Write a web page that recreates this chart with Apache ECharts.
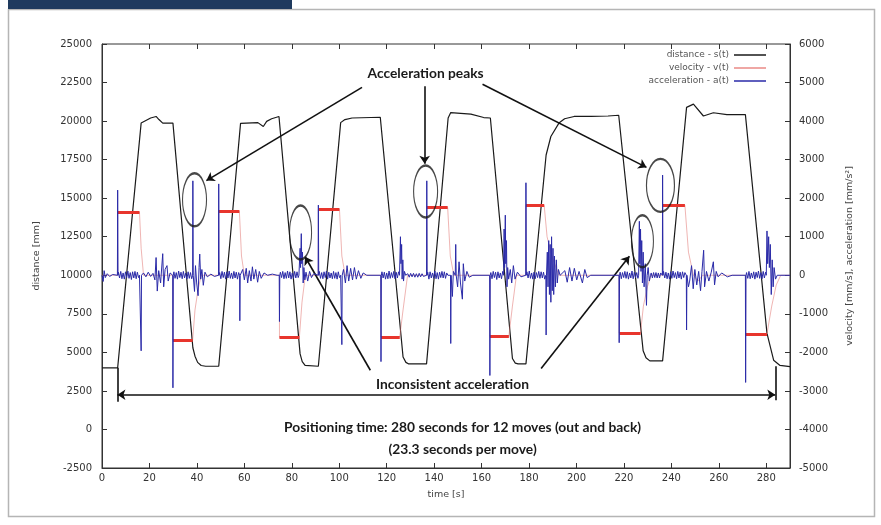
<!DOCTYPE html>
<html><head><meta charset="utf-8">
<script src="https://cdn.jsdelivr.net/npm/echarts@6/dist/echarts.min.js"></script>
<style>html,body{margin:0;padding:0;background:#fff}#c{width:881px;height:525px}</style>
</head><body><div id="c"></div>
<script>
// ---------------- DATA ----------------
const seriesNames = ['distance - s(t)', 'velocity - v(t)', 'acceleration - a(t)'];

// distance s(t) [mm]  (left axis)  : [time s, distance mm]
const distance = [
  [0,4000],[6.6,4000],[16.5,19870],[20.5,20200],[22.8,20300],[24,20100],[25.6,19870],[29.9,19870],
  [38.3,5300],[39.2,4750],[40.3,4350],[41.8,4150],[43.7,4100],[49.2,4100],
  [58.4,19850],[65.7,19900],[68,19650],[69.4,19980],[71.5,20150],[74.6,20300],
  [83.5,4900],[84.4,4400],[85.6,4150],[91.2,4100],
  [100.6,19900],[102.4,20100],[105.4,20200],[117.3,20250],
  [126.9,4700],[128.1,4350],[129.3,4250],[136.8,4250],
  [145.9,20200],[147,20550],[151.2,20500],[155.5,20450],[160.9,20230],[163.7,20200],
  [173,4600],[174.2,4300],[175.4,4250],[178.7,4250],
  [187.2,17800],[189.2,19000],[192.6,19870],[195,20150],[199,20300],[206.2,20300],[213.3,20330],[217.8,20380],
  [228.1,5100],[229.3,4650],[230.9,4450],[236.3,4450],
  [246.4,20890],[249.3,21100],[253.5,20330],[257.7,20540],[263.4,20420],[271.2,20420],
  [280.3,6230],[283.1,4490],[285.8,4150],[290,4080]
];

// velocity v(t) [mm/s]  (right axis)
const velocity = [
  [0,0],[6.6,0],[6.6,1640],[15.8,1640],[16.5,700],[17.5,0],
  [29.9,0],[29.9,-1680],[38.2,-1680],[39.2,-900],[40.4,-400],[41.8,0],
  [49.2,0],[49.2,1670],[57.9,1670],[58.8,500],[60,0],
  [74.8,0],[74.8,-1610],[83.2,-1610],[84.3,-700],[85.7,0],
  [91.2,0],[91.2,1710],[100.1,1710],[101.1,500],[102.5,0],
  [117.6,0],[117.6,-1600],[125.5,-1600],[126.9,-900],[128.8,0],
  [136.9,0],[136.9,1760],[145.7,1760],[146.8,500],[148.3,0],
  [163.5,0],[163.5,-1580],[171.5,-1580],[173,-800],[174.7,0],
  [178.7,0],[178.7,1810],[186.4,1810],[187.6,1000],[189.6,500],[192.6,0],
  [218,0],[218,-1500],[227,-1500],[228.2,-800],[229.9,-300],[231.4,0],
  [236.3,0],[236.3,1820],[245.7,1820],[247.2,600],[249.3,0],[251.2,-150],[253.2,0],
  [271.3,0],[271.3,-1520],[280.3,-1520],[282.3,-800],[284.2,-250],[286.1,0],[290,0]
];

// acceleration a(t) [mm/s^2]  (right axis)
const acceleration = [
  [0,0],[0.5,-160],[0.9,120],[1.4,-60],[2.2,40],[3.2,-30],[4.5,20],[6.5,0],[6.6,2210],[6.75,0],
  [6.9,80],[7.4,-70],[7.9,100],[8.4,-90],[8.9,60],[9.4,-100],[9.9,90],[10.4,-60],[10.9,110],[11.4,-80],[11.9,70],[12.4,-110],[12.9,90],[13.4,-70],[13.9,100],[14.4,-90],[14.9,80],[15.4,-60],
  [15.8,0],[16.4,0],[16.5,-1960],[16.65,0],[17.5,60],[18.5,-40],[19.5,80],[20.5,-30],[21.5,50],[22.3,-120],[22.8,460],[23.3,-410],[23.9,120],[24.7,-200],[25.6,560],[26,-300],[26.6,150],[27.4,250],[27.9,-150],[28.7,60],[29.8,0],[29.9,-2920],[30.05,0],
  [30.3,90],[30.8,-80],[31.3,70],[31.8,-100],[32.3,110],[32.8,-60],[33.3,80],[33.8,-90],[34.3,100],[34.8,-70],[35.3,60],[35.8,-100],[36.3,90],[36.8,-80],[37.3,70],[37.8,-90],
  [38.2,0],[38.3,2450],[38.45,0],[39,-420],[39.4,250],[39.9,-200],[40.5,-530],[40.9,200],[41.2,550],[41.6,-100],[42.1,150],[42.7,-260],[43.4,80],[44.4,-40],[45.9,30],[47.4,-30],[49.1,0],[49.2,2370],[49.35,0],
  [49.6,70],[50.1,-90],[50.6,100],[51.1,-60],[51.6,80],[52.1,-100],[52.6,90],[53.1,-70],[53.6,110],[54.1,-80],[54.6,60],[55.1,-90],[55.6,100],[56.1,-70],[56.6,80],[57.1,-100],[57.6,70],
  [58,0],[58.1,-1180],[58.25,0],[59.3,150],[60,-120],[60.8,180],[61.4,-200],[62.1,120],[62.8,-150],[63.4,220],[64,-100],[64.8,150],[65.6,-180],[66.3,100],[67.1,-80],[68.3,60],[69.8,0],[71.8,30],[73.8,0],[74.7,0],[74.8,-1200],[74.95,0],
  [75.2,80],[75.7,-60],[76.2,100],[76.7,-90],[77.2,70],[77.7,-80],[78.2,110],[78.7,-70],[79.2,90],[79.7,-100],[80.2,60],[80.7,-80],[81.2,100],[81.7,-70],[82.2,90],[82.7,-60],
  [83,0],[83.5,700],[83.7,200],[84,1080],[84.2,300],[84.5,600],[84.8,-200],[85.1,200],[85.5,-120],[86,80],[86.7,-150],[87.5,100],[88.3,-60],[89.2,40],[91.1,0],[91.2,1820],[91.35,0],
  [91.6,100],[92.1,-80],[92.6,70],[93.1,-90],[93.6,90],[94.1,-60],[94.6,110],[95.1,-100],[95.6,80],[96.1,-70],[96.6,60],[97.1,-90],[97.6,100],[98.1,-80],[98.6,70],[99.1,-100],[99.6,90],[100.1,-60],
  [100.6,0],[101,0],[101.1,-1800],[101.25,0],[101.8,150],[102.6,-200],[103.3,250],[104,-150],[104.8,180],[105.6,-120],[106.4,200],[107.2,-100],[108.1,120],[109.1,-80],[110.1,60],[111.6,0],[117.5,0],[117.6,-2240],[117.75,0],
  [118,90],[118.5,-70],[119,80],[119.5,-100],[120,60],[120.5,-90],[121,110],[121.5,-80],[122,70],[122.5,-60],[123,100],[123.5,-90],[124,80],[124.5,-70],[125,90],
  [125.4,0],[125.8,1000],[126,300],[126.3,800],[126.5,-100],[126.8,400],[127.1,-150],[127.5,100],[128,0],
  [128.9,40],[129.5,-50],[130.1,50],[130.7,-40],[131.3,50],[131.9,-50],[132.5,40],[133.1,-50],[133.7,50],[134.3,-40],[134.9,40],[135.5,-30],[136.8,0],[136.9,2450],[137.05,0],
  [137.3,80],[137.8,-100],[138.3,90],[138.8,-70],[139.3,60],[139.8,-80],[140.3,110],[140.8,-90],[141.3,70],[141.8,-100],[142.3,80],[142.8,-60],[143.3,100],[143.8,-70],[144.3,90],[144.8,-80],[145.3,60],
  [145.8,0],[146.9,0],[147,-1770],[147.15,0],[147.7,-550],[148.1,100],[148.9,0],[149.1,800],[149.3,0],[149.9,-300],[150.5,350],[151.1,-200],[151.9,-620],[152.3,300],[152.9,-150],[153.8,100],[154.8,-50],[156.3,0],[163.4,0],[163.5,-2600],[163.65,0],
  [163.9,70],[164.4,-90],[164.9,100],[165.4,-60],[165.9,80],[166.4,-110],[166.9,90],[167.4,-70],[167.9,60],[168.4,-90],[168.9,100],
  [169.3,0],[169.5,1200],[169.7,200],[170,1560],[170.2,300],[170.5,900],[170.7,-300],[171,200],[171.4,-100],[172.1,150],[172.7,-200],[173.4,250],[174.1,-100],[175.1,80],[176.6,-40],[178.6,0],[178.7,2400],[178.85,0],
  [179.1,90],[179.6,-70],[180.1,110],[180.6,-80],[181.1,60],[181.6,-100],[182.1,80],[182.6,-90],[183.1,70],[183.6,-60],[184.1,100],[184.6,-80],[185.1,90],[185.6,-70],[186.1,80],[186.6,-100],
  [187.1,0],[187.2,-1550],[187.35,0],[187.7,600],[188,-300],[188.3,900],[188.6,-500],[188.9,800],[189.2,-700],[189.5,1000],[189.8,-400],[190.1,700],[190.4,-500],[190.7,500],[191.1,-300],[191.5,400],[191.9,-200],[192.4,150],[193.1,0],
  [195.1,120],[196.1,-180],[197.1,200],[198.1,-150],[199.1,180],[200.1,-120],[201.1,100],[202.5,-200],[203.5,150],[204.5,-60],[206,0],[217.9,0],[218,-1750],[218.15,0],
  [218.4,80],[218.9,-90],[219.4,70],[219.9,-60],[220.4,100],[220.9,-80],[221.4,90],[221.9,-100],[222.4,60],[222.9,-70],[223.4,110],[223.9,-90],[224.4,80],[224.9,-60],[225.4,70],[225.9,-80],
  [226.2,0],[226.5,1400],[226.7,300],[227,1200],[227.2,100],[227.5,900],[227.8,-200],[228.1,600],[228.5,-300],[229,300],[229.5,-780],[229.8,0],[230.2,200],[230.7,-150],[231.2,0],
  [231.5,60],[232,-70],[232.5,70],[233,-60],[233.5,70],[234,-70],[234.5,60],[235,-70],[235.5,60],[236.2,0],[236.3,2600],[236.45,0],
  [236.7,100],[237.2,-70],[237.7,80],[238.2,-90],[238.7,60],[239.2,-100],[239.7,90],[240.2,-80],[240.7,110],[241.2,-60],[241.7,70],[242.2,-90],[242.7,100],[243.2,-70],[243.7,80],[244.2,-100],[244.7,90],[245.2,-60],[245.7,70],
  [246.3,0],[246.4,-1420],[246.55,0],[247.2,-300],[247.7,-150],[248.5,250],[249.2,-350],[249.9,150],[250.7,-250],[251.5,100],[252.3,-400],[252.9,100],[253.6,650],[254,-300],[254.8,100],[255.8,-150],[256.8,80],[257.7,350],[258.2,-250],[258.9,100],[259.7,-40],[261.2,60],[263.6,-40],[265.6,0],[271.2,0],[271.3,-2780],[271.45,0],
  [271.7,70],[272.2,-80],[272.7,100],[273.2,-90],[273.7,60],[274.2,-70],[274.7,90],[275.2,-100],[275.7,80],[276.2,-60],[276.7,110],[277.2,-80],[277.7,70],[278.2,-90],[278.7,100],[279.2,-70],[279.7,80],
  [280,0],[280.3,1150],[280.6,300],[281,1000],[281.3,200],[281.7,800],[282.1,-500],[282.5,400],[282.9,-300],[283.3,200],[283.9,-100],[284.6,0],[290,0]
];

// axis ranges / ticks
const xRange = [0, 290], xStep = 20;
const leftRange = [-2500, 25000], leftStep = 2500;
const rightRange = [-5000, 6000], rightStep = 1000;

// annotations (data coordinates: time, distance)
const noteTexts = ['Acceleration peaks', 'Inconsistent acceleration',
  'Positioning time: 280 seconds for 12 moves (out and back)', '(23.3 seconds per move)'];
const noteX = [136.4, 147.7, 152, 152];
const noteY = [23090, 2890, 100, -1330];
const arrowFrom = [[109.6,22190],[136.0,22260],[160.4,22390],[113.1,3840],[185.1,3950]];
const arrowTo   = [[44.0,16140],[136.0,17230],[229.5,17000],[85.6,11200],[222.3,11240]];
const spanStart = [6.5, 2250], spanEnd = [283.8, 2250];
const barLeft = [[6.5,1800],[6.5,4000]], barRight = [[283.8,1900],[283.8,4100]];
const ellipseX = [39.0, 83.7, 136.4, 235.4, 227.8];
const ellipseY = [14895, 12770, 15430, 15830, 12210];
const ellipseW = [24, 22, 24, 28, 22];
const ellipseH = [53, 54, 52, 53, 52];

// ---------------- CHART ----------------
const chart = echarts.init(document.getElementById('c'));
const fmt = v => String(v);
const axisCol = '#333';
const lblStyle = {fontFamily:'DejaVu Sans', fontSize:10, color:'#333'};

const velBars = [];
for (let i = 0; i < velocity.length - 1; i++) {
  const a = velocity[i], b = velocity[i+1];
  if (a[1] !== 0 && a[1] === b[1]) velBars.push([{coord:a},{coord:b}]);
}
const annLines = arrowFrom.map((f,i) => [{coord:f},{coord:arrowTo[i]}]);
annLines.push([{coord:spanStart, symbol:'arrow'},{coord:spanEnd, symbol:'arrow'}]);
annLines.push([{coord:barLeft[0], symbol:'none'},{coord:barLeft[1], symbol:'none'}]);
annLines.push([{coord:barRight[0], symbol:'none'},{coord:barRight[1], symbol:'none'}]);

const option = {
  animation:false,
  backgroundColor:'#fff',
  grid:{left:102, right:91, top:44, bottom:57, show:true, borderColor:axisCol, borderWidth:1, backgroundColor:'transparent'},
  legend:{
    data:seriesNames.map(n => ({name:n, icon:'rect'})), orient:'vertical', right:110, top:43.5, align:'right',
    itemWidth:32, itemHeight:1.5, itemGap:0,
    textStyle:{fontFamily:'DejaVu Sans', fontSize:9, color:'#555', lineHeight:13}
  },
  xAxis:[
    {type:'value', min:xRange[0], max:xRange[1], interval:xStep, position:'bottom',
     name:'time [s]', nameLocation:'middle', nameGap:22,
     nameTextStyle:{fontFamily:'DejaVu Sans', fontSize:9.5, color:'#444'},
     axisLine:{show:true, onZero:false, lineStyle:{color:axisCol}},
     axisTick:{inside:true, length:5, lineStyle:{color:axisCol}},
     axisLabel:Object.assign({margin:5, showMaxLabel:false, formatter:fmt}, lblStyle),
     splitLine:{show:false}},
    {type:'value', min:xRange[0], max:xRange[1], interval:xStep, position:'top',
     axisLine:{show:false, onZero:false}, axisTick:{inside:true, length:5, lineStyle:{color:axisCol}},
     axisLabel:{show:false}, splitLine:{show:false}}
  ],
  yAxis:[
    {type:'value', min:leftRange[0], max:leftRange[1], interval:leftStep, position:'left',
     name:'distance [mm]', nameLocation:'middle', nameRotate:90, nameGap:60,
     nameTextStyle:{fontFamily:'DejaVu Sans', fontSize:9.5, color:'#444'},
     axisLine:{show:true, onZero:false, lineStyle:{color:axisCol}},
     axisTick:{inside:true, length:5, lineStyle:{color:axisCol}},
     axisLabel:Object.assign({margin:10, formatter:fmt}, lblStyle),
     splitLine:{show:false}},
    {type:'value', min:rightRange[0], max:rightRange[1], interval:rightStep, position:'right',
     name:'velocity [mm/s], acceleration [mm/s²]', nameLocation:'middle', nameRotate:90, nameGap:55,
     nameTextStyle:{fontFamily:'DejaVu Sans', fontSize:9.5, color:'#444'},
     axisLine:{show:true, onZero:false, lineStyle:{color:axisCol}},
     axisTick:{inside:true, length:5, lineStyle:{color:axisCol}},
     axisLabel:Object.assign({margin:9, formatter:fmt}, lblStyle),
     splitLine:{show:false}}
  ],
  series:[
    {name:seriesNames[0], type:'line', xAxisIndex:0, yAxisIndex:0, data:distance,
     symbol:'none', z:3, color:'#1a1a1a', lineStyle:{color:'#1a1a1a', width:1.2},
     markLine:{silent:true, animation:false, symbol:['none','arrow'], symbolSize:8,
       label:{show:false}, lineStyle:{color:'#111', width:1.6, type:'solid'},
       emphasis:{disabled:true}, data:annLines}},
    {name:seriesNames[1], type:'line', xAxisIndex:0, yAxisIndex:1, data:velocity,
     symbol:'none', z:4, color:'#ea8a86', lineStyle:{color:'rgba(226,120,116,0.55)', width:1},
     markLine:{silent:true, animation:false, symbol:'none', label:{show:false},
       lineStyle:{color:'#e8352d', width:3, type:'solid'}, emphasis:{disabled:true}, data:velBars}},
    {name:seriesNames[2], type:'line', xAxisIndex:0, yAxisIndex:1, data:acceleration,
     symbol:'none', z:5, color:'#2a2aa8', lineStyle:{color:'#2a2aa8', width:1}},
    {name:'marks', type:'scatter', xAxisIndex:0, yAxisIndex:0, z:6, silent:true,
     data:ellipseX.map((x,i) => ({value:[x, ellipseY[i]], symbolSize:[ellipseW[i], ellipseH[i]]})),
     symbol:'circle',
     itemStyle:{color:'rgba(0,0,0,0)', borderColor:'#1a1a1a', borderWidth:1.6}}
  ]
};
chart.setOption(option);

const texts = noteTexts.map((t,i) => {
  const p = chart.convertToPixel({xAxisIndex:0, yAxisIndex:0}, [noteX[i], noteY[i]]);
  return {type:'text', x:p[0], y:p[1], z:100, silent:true,
    style:{text:t, fill:'#1a1a1a', font:'bold 13.8px Lato', align:'center', verticalAlign:'middle'}};
});
chart.setOption({graphic:[
  {type:'rect', z:-10, silent:true, shape:{x:8.5, y:9.5, width:866, height:507},
   style:{fill:'none', stroke:'#b5b5b5', lineWidth:1.5}},
  {type:'rect', z:-9, silent:true, shape:{x:8, y:0, width:284, height:9}, style:{fill:'#1f3a5e'}}
].concat(texts)});
</script></body></html>
